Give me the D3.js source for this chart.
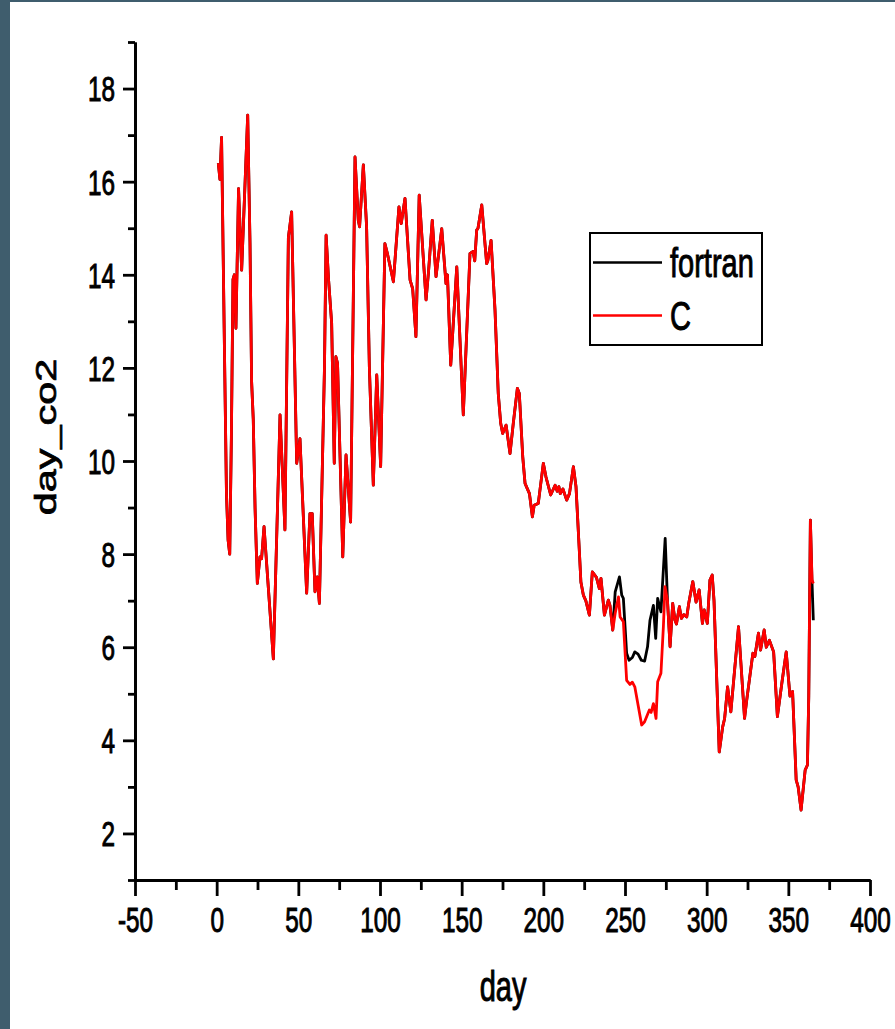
<!DOCTYPE html>
<html>
<head>
<meta charset="utf-8">
<script src="https://cdn.jsdelivr.net/npm/d3@7"></script>
<style>
  body { margin: 0; background: #fff; }
  svg { display: block; font-family: "Liberation Sans", Arial, sans-serif; }
  svg text { stroke: #000; stroke-width: 0.7px; fill: #000; }
</style>
</head>
<body>
<div id="chart"></div>
<script>
// C series (red)
const C_DAY = [
  1, 2, 3, 5, 6, 7, 8, 9, 10, 10.8, 11.8, 13.4, 15.3, 19, 20.4, 21.4, 22.4, 23.5,
  24.9, 26.5, 27.5, 29, 34.7, 38.8, 41.8, 43.9, 45.9, 49, 51, 55.1, 57.1, 58.5,
  60.2, 61.6, 62.9, 66, 67, 68.5, 70.4, 72, 73, 74, 77.2, 79.2, 82, 84.7, 86.7,
  87.5, 89.8, 91.8, 93.5, 95.9, 98, 100.4, 103, 104.5, 108.2, 111.6, 113, 115.3,
  118.4, 120, 122, 124, 128.2, 129.7, 132, 134.3, 137.8, 140.4, 141.3, 143.3,
  147, 151, 155.1, 157, 158, 159.2, 160, 162.3, 165.3, 166, 168, 170.4, 172.4,
  173.9, 175.1, 177.2, 179.6, 181.6, 184.1, 185.3, 187.4, 188.8, 190.5, 191.5,
  193.3, 194.4, 196.9, 200, 201.6, 204.5, 207.2, 208.5, 209.5, 210.4, 212, 214.3,
  216, 218.4, 220, 222, 223, 224.5, 226, 228.2, 230, 232.5, 234.3, 235.3, 237.4,
  239.8, 240.8, 242.5, 244, 246, 247, 249, 251, 253, 254.5, 256, 260.2, 262,
  264.9, 266, 267.4, 269, 270, 272, 273.5, 274.5, 276, 277.6, 279.2, 280.6,
  281.5, 283.3, 284.5, 286, 287.8, 289, 291.5, 293.5, 295.4, 297.4, 298.5,
  300.4, 302, 303.4, 304.5, 307.7, 309.8, 311, 312.8, 314.8, 319.5, 323.2,
  324.4, 328.3, 329.5, 331.7, 333, 335.2, 336.5, 338.4, 341, 343.3, 346, 348.7,
  351, 352.6, 354.8, 356, 357.8, 360.3, 361.7, 362.5, 363.5, 364.5, 365.3
];
const C_CO2 = [
  16.4, 16.05, 16.95, 11.8, 9.3, 8.3, 8.0, 10.5, 13.9, 14.0, 12.85, 15.85, 14.1, 17.43, 14.7, 11.7, 10.9, 9.0,
  7.37, 7.94, 7.9, 8.59, 5.75, 10.99, 8.52, 14.8, 15.35, 9.95, 10.48, 7.16, 8.87, 8.87,
  7.19, 7.51, 6.94, 12.0, 14.85, 13.9, 12.96, 9.95, 12.24, 12.1, 7.94, 10.13, 8.69, 16.53, 15.17,
  15.03, 16.36, 15.03, 12.0, 9.48, 11.85, 9.88, 14.67, 14.46, 13.85, 15.46, 15.1, 15.64,
  13.89, 13.7, 12.67, 15.71, 13.46, 14.06, 15.17, 13.96, 14.99, 13.81, 14.0, 12.06,
  14.17, 10.99, 14.46, 14.5, 14.3, 14.96, 15.0, 15.5, 14.24, 14.3, 14.74, 13.25, 11.45,
  10.81, 10.59, 10.77, 10.16, 10.81, 11.56, 11.45, 10.09, 9.52, 9.38, 9.3,
  8.8, 9.05, 9.09, 9.95, 9.66, 9.27, 9.48, 9.35, 9.45, 9.3, 9.4, 9.16,
  9.3, 9.88, 9.45, 8.1, 7.4, 7.12, 7.0, 6.69, 7.62, 7.5, 7.26, 7.48, 6.69,
  7.01, 6.9, 6.37, 6.73, 7.08, 6.65, 6.55, 5.29, 5.2, 5.25, 5.15, 4.33, 4.4,
  4.65, 4.6, 4.79, 4.47, 5.26, 5.44, 6.44, 7.3, 7.0, 6.01, 6.94, 6.58,
  6.5, 6.87, 6.62, 6.7, 6.65, 6.94, 7.41, 6.97, 7.23, 6.51, 6.8,
  6.51, 7.44, 7.55, 7.0, 3.75, 4.29, 4.47, 5.15, 4.61, 6.44, 4.47,
  4.83, 5.87, 5.8, 6.3, 5.94, 6.37, 6.0, 6.15, 5.9, 4.51, 5.22, 5.9,
  4.95, 5.05, 3.15, 3.0, 2.5, 3.36, 3.47, 4.94, 8.73, 7.45, 7.37
];

// fortran series (black): same as C except where it is read separately below
const FORTRAN_DAY = [
  244, 246.6, 248, 249, 251, 252.5, 254.5, 256, 258, 260, 262, 263.8, 265.3,
  267.4, 268.8, 270, 271, 272, 274.6, 276, 364.5, 365.3
];
const FORTRAN_CO2 = [
  7.19, 7.51, 7.12, 7.05, 5.87, 5.72, 5.78, 5.9, 5.85, 5.72, 5.7, 6.01, 6.58,
  6.9, 6.19, 7.05, 6.9, 6.76, 8.34, 7.01, 7.4, 6.58
];
const FORTRAN_RANGES = [[243, 277], [364, 366]];

const X_TICKS = [-50, 0, 50, 100, 150, 200, 250, 300, 350, 400];
const X_MINOR = [-25, 25, 75, 125, 175, 225, 275, 325, 375];
const Y_TICKS = [2, 4, 6, 8, 10, 12, 14, 16, 18];
const Y_MINOR = [1, 3, 5, 7, 9, 11, 13, 15, 17, 19];

const LEGEND_LABELS = ["fortran", "C"];
const LEGEND_COLORS = ["#000000", "#ff0000"];

const WIDTH = 895;
const HEIGHT = 1029;
const STRETCH = 1.43; // text in the picture is tall and narrow

const cData = C_DAY.map((d, i) => ({ day: d, v: C_CO2[i] }));
const inFortranRange = (d) => FORTRAN_RANGES.some((r) => d >= r[0] && d <= r[1]);
const fortranData = cData
  .filter((p) => !inFortranRange(p.day))
  .concat(FORTRAN_DAY.map((d, i) => ({ day: d, v: FORTRAN_CO2[i] })))
  .sort((a, b) => a.day - b.day);

const svg = d3.select("#chart").append("svg")
  .attr("width", WIDTH)
  .attr("height", HEIGHT);

svg.append("rect").attr("width", WIDTH).attr("height", HEIGHT).attr("fill", "#fff");
// dark frame strip from the screenshot edge
svg.append("rect").attr("x", 0).attr("y", 0).attr("width", 10).attr("height", HEIGHT).attr("fill", "#3f5d6d");
svg.append("rect").attr("x", 0).attr("y", 0).attr("width", WIDTH).attr("height", 2).attr("fill", "#3f5d6d");

const X = d3.scaleLinear().domain([-50, 400]).range([135, 870]);
const Y = d3.scaleLinear().domain([1, 19]).range([880, 42]);

const line = d3.line().x((d) => X(d.day)).y((d) => Y(d.v));

svg.append("path")
  .datum(fortranData)
  .attr("d", line)
  .attr("fill", "none")
  .attr("stroke", LEGEND_COLORS[0])
  .attr("stroke-width", 2.8)
  .attr("stroke-linejoin", "round");

svg.append("path")
  .datum(cData)
  .attr("d", line)
  .attr("fill", "none")
  .attr("stroke", LEGEND_COLORS[1])
  .attr("stroke-width", 2.8)
  .attr("stroke-linejoin", "round");

// axes
const styleAxis = (g) => {
  g.selectAll("path, line").attr("stroke", "#000").attr("stroke-width", 2.8);
  g.selectAll("text").attr("font-size", 24.3)
    .attr("font-family", "'Liberation Sans', Arial, sans-serif");
};

svg.append("g")
  .attr("transform", "translate(0," + Y(1) + ")")
  .call(d3.axisBottom(X).tickValues(X_MINOR).tickSize(10).tickSizeOuter(0).tickFormat(""))
  .call(styleAxis);

const xAxis = svg.append("g")
  .attr("transform", "translate(0," + Y(1) + ")")
  .call(d3.axisBottom(X).tickValues(X_TICKS).tickSize(16).tickSizeOuter(0).tickFormat((d) => String(d)))
  .call(styleAxis);
xAxis.selectAll("text")
  .attr("y", null).attr("dy", null)
  .attr("transform", "translate(0,52) scale(1," + STRETCH + ")");

svg.append("g")
  .attr("transform", "translate(" + X(-50) + ",0)")
  .call(d3.axisLeft(Y).tickValues(Y_MINOR).tickSize(7).tickSizeOuter(0).tickFormat(""))
  .call(styleAxis);

const yAxis = svg.append("g")
  .attr("transform", "translate(" + X(-50) + ",0)")
  .call(d3.axisLeft(Y).tickValues(Y_TICKS).tickSize(12).tickSizeOuter(0).tickFormat((d) => String(d)))
  .call(styleAxis);
yAxis.selectAll("text")
  .attr("x", null).attr("dy", null)
  .attr("transform", "translate(-20,12.4) scale(1," + STRETCH + ")");

// axis titles
svg.append("text")
  .attr("transform", "translate(503,1001) scale(1,1.45)")
  .attr("text-anchor", "middle")
  .attr("font-size", 29)
  .text("day");

svg.append("text")
  .attr("transform", "translate(56,437) rotate(-90) scale(1.43,1)")
  .attr("text-anchor", "middle")
  .attr("font-size", 29)
  .text("day_co2");

// legend
const legend = svg.append("g");
legend.append("rect")
  .attr("x", 590).attr("y", 233)
  .attr("width", 172).attr("height", 112)
  .attr("fill", "#fff")
  .attr("stroke", "#000")
  .attr("stroke-width", 2);

LEGEND_LABELS.forEach((label, i) => {
  const ly = 262.5 + i * 53;
  legend.append("line")
    .attr("x1", 593).attr("x2", 662)
    .attr("y1", ly).attr("y2", ly)
    .attr("stroke", LEGEND_COLORS[i])
    .attr("stroke-width", 2.5);
  legend.append("text")
    .attr("transform", "translate(670," + (ly + 14.5) + ") scale(1,1.4)")
    .attr("font-size", 29)
    .text(label);
});
</script>
</body>
</html>
